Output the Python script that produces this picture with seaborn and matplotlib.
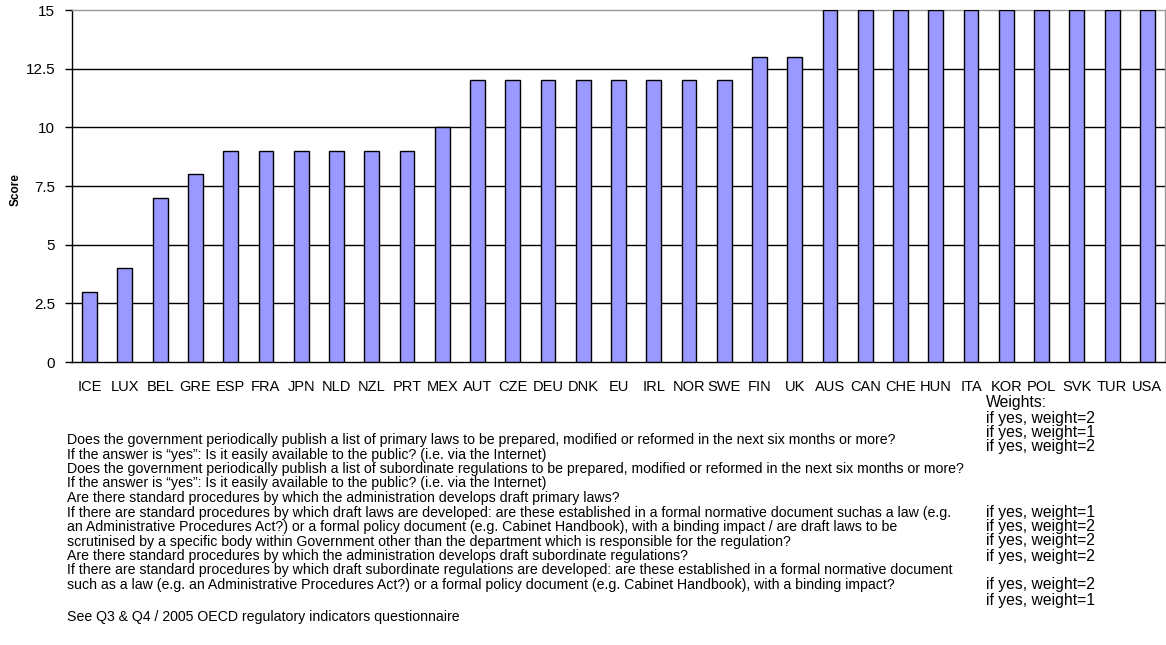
import numpy as np
import pandas as pd
import matplotlib
matplotlib.use("Agg")
import matplotlib.pyplot as plt
import seaborn as sns

countries = ["ICE", "LUX", "BEL", "GRE", "ESP", "FRA", "JPN", "NLD", "NZL", "PRT",
             "MEX", "AUT", "CZE", "DEU", "DNK", "EU", "IRL", "NOR", "SWE", "FIN",
             "UK", "AUS", "CAN", "CHE", "HUN", "ITA", "KOR", "POL", "SVK", "TUR", "USA"]
scores = [3, 4, 7, 8, 9, 9, 9, 9, 9, 9,
          10, 12, 12, 12, 12, 12, 12, 12, 12, 13,
          13, 15, 15, 15, 15, 15, 15, 15, 15, 15, 15]
y_ticks = [0, 2.5, 5, 7.5, 10, 12.5, 15]
y_tick_labels = ["0", "2.5", "5", "7.5", "10", "12.5", "15"]

questions = [
    "Does the government periodically publish a list of primary laws to be prepared, modified or reformed in the next six months or more?",
    "If the answer is \u201cyes\u201d: Is it easily available to the public? (i.e. via the Internet)",
    "Does the government periodically publish a list of subordinate regulations to be prepared, modified or reformed in the next six months or more?",
    "If the answer is \u201cyes\u201d: Is it easily available to the public? (i.e. via the Internet)",
    "Are there standard procedures by which the administration develops draft primary laws?",
    "If there are standard procedures by which draft laws are developed: are these established in a formal normative document suchas a law (e.g.",
    "an Administrative Procedures Act?) or a formal policy document (e.g. Cabinet Handbook), with a binding impact / are draft laws to be",
    "scrutinised by a specific body within Government other than the department which is responsible for the regulation?",
    "Are there standard procedures by which the administration develops draft subordinate regulations?",
    "If there are standard procedures by which draft subordinate regulations are developed: are these established in a formal normative document",
    "such as a law (e.g. an Administrative Procedures Act?) or a formal policy document (e.g. Cabinet Handbook), with a binding impact?",
]
source_note = "See Q3 & Q4 / 2005 OECD regulatory indicators questionnaire"
weights_header = "Weights:"
weights = [2, 1, 2, 1, 2, 2, 2, 2, 1]

W, H = 1166, 645
sns.set_theme(style="white")
plt.rcParams["font.family"] = ["Liberation Sans", "DejaVu Sans"]

fig = plt.figure(figsize=(W / 100, H / 100), dpi=100)
ax = fig.add_axes([72 / W, 1 - 362 / H, (1165 - 72) / W, (362 - 10) / H])

df = pd.DataFrame({"country": countries, "score": scores})
sns.barplot(data=df, x="country", y="score", color="#9999FF", saturation=1,
            edgecolor="black", linewidth=1, width=0.42, ax=ax, zorder=3)

n = len(countries)
ax.set_xlim(-0.5, n - 0.5)
ax.set_ylim(y_ticks[0], y_ticks[-1])
ax.set_yticks(y_ticks)
ax.set_yticklabels(y_tick_labels, fontsize=11, color="black")
for yv in y_ticks[1:-1]:
    ax.axhline(yv, color="black", lw=1, zorder=1)

ax.set_xticks(range(n))
ax.set_xticklabels(countries, fontsize=10.5, color="black")
ax.set_xticks(np.arange(n + 1) - 0.5, minor=True)
ax.tick_params(axis="x", which="major", length=0, pad=13)
ax.tick_params(axis="x", which="minor", length=5, width=1, color="black", direction="out")
ax.tick_params(axis="y", length=5, width=1, color="black", direction="out", pad=7, left=True)

ax.set_xlabel("")
ax.set_ylabel("Score", fontsize=8.5, fontweight="bold", color="black")
ax.yaxis.set_label_coords(-0.0465, 0.49)

for side in ["left", "bottom"]:
    ax.spines[side].set_color("black")
    ax.spines[side].set_linewidth(1)
for side in ["top", "right"]:
    ax.spines[side].set_color("#999999")
    ax.spines[side].set_linewidth(1)

def fy(py):
    return 1 - py / H

# questionnaire items
line_y = [440, 455, 469, 483, 498, 513, 527, 542, 556, 570, 585]
for txt, py in zip(questions, line_y):
    fig.text(67 / W, fy(py), txt, fontsize=10.2, va="center", ha="left", color="black")
fig.text(67 / W, fy(617), source_note, fontsize=10.2, va="center", ha="left", color="black")

# weights column
fig.text(986 / W, fy(402), weights_header, fontsize=11.3, va="center", ha="left", color="black")
weight_y = [418, 432, 447, 512, 527, 541, 556, 585, 600]
for w, py in zip(weights, weight_y):
    fig.text(986 / W, fy(py), f"if yes, weight={w}", fontsize=11.3, va="center", ha="left", color="black")

fig.savefig("out.png", dpi=100)
